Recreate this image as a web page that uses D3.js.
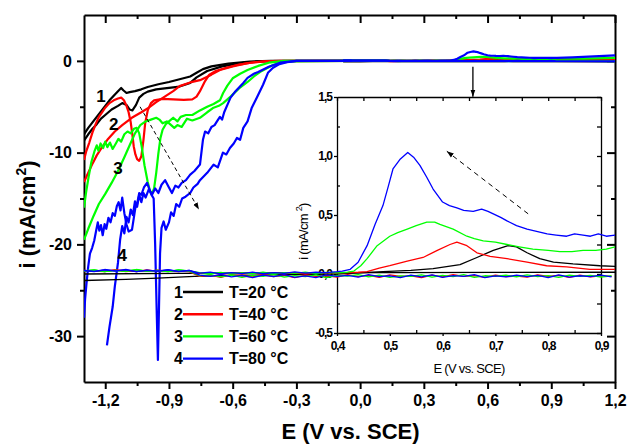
<!DOCTYPE html>
<html>
<head>
<meta charset="utf-8">
<script src="https://cdn.jsdelivr.net/npm/d3@7"></script>
<style>
  body { margin: 0; background: #fff; }
  svg { display: block; font-family: "Liberation Sans", Arial, sans-serif; }
</style>
</head>
<body>
<script>
// ---- main plot: cathodic branches, [E (V), i (mA/cm2)] ----
const blackUpper = [[-1.3,-8.0],[-1.28,-7.3],[-1.26,-6.7],[-1.24,-6.1],[-1.22,-5.5],[-1.2,-4.9],[-1.18,-4.3],[-1.16,-3.8],[-1.14,-3.3],[-1.125,-2.95],[-1.115,-3.2],[-1.1,-3.5],[-1.085,-3.4],[-1.06,-3.3],[-1.03,-3.1],[-1.0,-2.85],[-0.95,-2.55],[-0.9,-2.3],[-0.85,-2.0],[-0.8,-1.7],[-0.77,-1.3],[-0.74,-0.9],[-0.7,-0.6],[-0.62,-0.3],[-0.52,-0.08],[-0.42,0],[-0.04,0]];
const blackLower = [[-1.3,-8.7],[-1.28,-8.0],[-1.26,-7.4],[-1.24,-6.9],[-1.22,-6.3],[-1.2,-5.9],[-1.17,-5.3],[-1.14,-4.9],[-1.12,-4.6],[-1.1,-4.8],[-1.085,-5.3],[-1.072,-5.4],[-1.055,-4.8],[-1.04,-4.0],[-1.02,-3.6],[-1.0,-3.35],[-0.96,-3.1],[-0.9,-2.95],[-0.85,-2.8],[-0.8,-2.4],[-0.77,-1.8],[-0.72,-1.1],[-0.65,-0.6],[-0.55,-0.2],[-0.45,-0.03],[-0.04,0]];
const redUpper = [[-1.3,-10.8],[-1.29,-9.9],[-1.275,-8.9],[-1.26,-7.8],[-1.245,-6.9],[-1.23,-6.1],[-1.215,-5.6],[-1.2,-5.1],[-1.18,-4.6],[-1.16,-4.3],[-1.14,-4.1],[-1.125,-4.0],[-1.112,-4.3],[-1.1,-4.9],[-1.09,-5.6],[-1.08,-6.7],[-1.073,-7.9],[-1.066,-9.3],[-1.058,-10.2],[-1.05,-10.7],[-1.04,-10.9],[-1.03,-10.4],[-1.02,-8.6],[-1.012,-6.8],[-1.0,-5.4],[-0.985,-4.6],[-0.97,-4.3],[-0.93,-4.15],[-0.88,-4.2],[-0.83,-4.25],[-0.79,-4.2],[-0.77,-3.9],[-0.754,-3.3],[-0.73,-2.2],[-0.71,-1.5],[-0.68,-1.1],[-0.63,-0.75],[-0.57,-0.4],[-0.5,-0.15],[-0.42,-0.03],[-0.04,0]];
const redLower = [[-1.3,-13.2],[-1.28,-12.2],[-1.26,-11.2],[-1.24,-10.3],[-1.215,-9.4],[-1.19,-8.6],[-1.155,-7.7],[-1.12,-7.0],[-1.075,-6.2],[-1.03,-5.6],[-0.995,-5.1],[-0.96,-4.5],[-0.92,-3.9],[-0.88,-3.3],[-0.85,-2.75],[-0.8,-2.35],[-0.754,-2.1],[-0.7,-1.5],[-0.66,-1.0],[-0.6,-0.6],[-0.53,-0.25],[-0.45,-0.05],[-0.38,0],[-0.04,0]];
const greenUpper = [[-1.3,-16.0],[-1.29,-14.3],[-1.278,-12.6],[-1.265,-11.0],[-1.25,-9.8],[-1.24,-9.2],[-1.232,-9.8],[-1.222,-9.0],[-1.21,-9.5],[-1.2,-8.8],[-1.19,-9.4],[-1.178,-8.9],[-1.165,-9.6],[-1.15,-9.0],[-1.138,-8.5],[-1.125,-8.8],[-1.11,-8.0],[-1.095,-7.7],[-1.08,-7.9],[-1.065,-7.4],[-1.052,-7.3],[-1.04,-7.9],[-1.028,-9.4],[-1.015,-11.4],[-1.0,-13.2],[-0.99,-14.1],[-0.98,-14.5],[-0.97,-13.9],[-0.96,-12.2],[-0.95,-10.1],[-0.94,-8.4],[-0.93,-7.5],[-0.915,-6.9],[-0.9,-6.6],[-0.88,-6.2],[-0.86,-6.6],[-0.845,-6.1],[-0.82,-5.9],[-0.79,-5.9],[-0.754,-5.4],[-0.72,-5.0],[-0.69,-4.7],[-0.66,-4.3],[-0.645,-3.5],[-0.625,-2.7],[-0.6,-1.9],[-0.565,-1.4],[-0.53,-1.0],[-0.48,-0.55],[-0.43,-0.2],[-0.36,0],[-0.04,0]];
const greenLower = [[-1.3,-19.5],[-1.28,-18.3],[-1.255,-16.9],[-1.23,-15.6],[-1.2,-14.5],[-1.17,-13.3],[-1.14,-12.0],[-1.11,-10.5],[-1.085,-9.2],[-1.06,-7.9],[-1.035,-7.0],[-1.01,-6.6],[-0.985,-6.4],[-0.96,-6.2],[-0.945,-6.4],[-0.93,-6.8],[-0.91,-6.6],[-0.895,-6.9],[-0.875,-7.3],[-0.86,-7.0],[-0.84,-7.2],[-0.815,-6.3],[-0.79,-6.5],[-0.754,-6.2],[-0.72,-5.6],[-0.69,-5.1],[-0.665,-4.9],[-0.645,-4.6],[-0.61,-3.9],[-0.57,-3.0],[-0.53,-2.3],[-0.5,-1.7],[-0.47,-1.2],[-0.41,-0.45],[-0.35,-0.05],[-0.04,0]];
const blueFwd = [[-1.3,-28.0],[-1.295,-26.0],[-1.288,-24.2],[-1.28,-22.4],[-1.272,-21.0],[-1.262,-20.4],[-1.252,-19.6],[-1.242,-18.4],[-1.235,-17.6],[-1.228,-18.5],[-1.22,-17.9],[-1.212,-19.0],[-1.203,-17.8],[-1.195,-18.3],[-1.185,-17.1],[-1.175,-17.6],[-1.165,-16.6],[-1.155,-16.9],[-1.145,-15.8],[-1.137,-15.4],[-1.128,-16.3],[-1.12,-14.9],[-1.11,-16.6],[-1.1,-17.8],[-1.09,-18.6],[-1.074,-18.4],[-1.066,-17.2],[-1.058,-16.0],[-1.05,-15.6],[-1.04,-14.4],[-1.03,-14.6],[-1.018,-13.8],[-1.003,-13.3],[-0.992,-14.0],[-0.982,-14.6],[-0.972,-15.0],[-0.965,-20.0],[-0.958,-27.0],[-0.952,-32.6],[-0.947,-27.0],[-0.942,-21.0],[-0.935,-18.2],[-0.925,-17.5],[-0.915,-18.4],[-0.9,-17.6],[-0.89,-16.5],[-0.878,-16.9],[-0.866,-15.6],[-0.852,-15.9],[-0.838,-15.0],[-0.822,-14.8],[-0.8,-14.4],[-0.785,-13.8],[-0.765,-13.4],[-0.754,-13.0],[-0.72,-12.2],[-0.69,-11.3],[-0.67,-11.6],[-0.646,-10.0],[-0.63,-10.2],[-0.613,-9.5],[-0.595,-9.0],[-0.58,-8.4],[-0.565,-8.6],[-0.55,-7.3],[-0.53,-6.6],[-0.51,-5.1],[-0.486,-4.0],[-0.457,-2.6],[-0.434,-1.3],[-0.41,-0.75],[-0.38,-0.35],[-0.344,-0.15],[-0.3,0],[-0.04,0]];
const blueRev = [[-1.192,-31.0],[-1.18,-29.0],[-1.165,-26.8],[-1.155,-24.6],[-1.14,-22.0],[-1.13,-19.5],[-1.12,-18.0],[-1.11,-18.8],[-1.1,-17.0],[-1.09,-17.6],[-1.08,-16.2],[-1.07,-16.8],[-1.06,-15.3],[-1.05,-15.9],[-1.04,-14.6],[-1.03,-15.4],[-1.02,-14.4],[-1.01,-14.9],[-0.995,-14.0],[-0.98,-14.6],[-0.965,-13.9],[-0.95,-14.4],[-0.935,-13.5],[-0.918,-13.0],[-0.9,-13.8],[-0.886,-14.4],[-0.87,-13.6],[-0.855,-13.8],[-0.84,-13.3],[-0.82,-13.0],[-0.8,-12.4],[-0.78,-12.0],[-0.765,-11.6],[-0.754,-11.3],[-0.74,-8.6],[-0.73,-7.7],[-0.715,-7.9],[-0.7,-7.2],[-0.685,-7.0],[-0.674,-6.6],[-0.66,-6.1],[-0.65,-6.4],[-0.64,-5.6],[-0.625,-4.8],[-0.61,-4.0],[-0.59,-3.4],[-0.57,-2.9],[-0.55,-2.4],[-0.53,-1.85],[-0.5,-1.4],[-0.48,-1.2],[-0.43,-0.65],[-0.377,-0.2],[-0.3,0],[-0.04,0]];

// ---- inset data (anodic region), [E (V), i (mA/cm2)] ----
const fwdE = [-0.08,-0.06,-0.04,-0.02,0,0.02,0.04,0.06,0.08,0.1,0.12,0.14,0.16,0.18,0.2,0.22,0.24,0.26,0.28,0.3,0.32,0.34,0.36,0.38,0.4];
const fwdBlueFlat = [0.03,0.022,0.038,0.026,0.035,0.02,0.032,0.025,0.036,0.022,0.03,0.008,0.015,0.0,0.012,0.004,0.016,0.002,0.012,0.006,0.018,0.008,0.015,0.012,0.02];
const fwdGreenFlat = [0.025,0.034,0.02,0.03,0.024,0.036,0.022,0.03,0.02,0.034,0.026,0.012,0.002,0.014,0.0,0.01,0.004,0.015,0.0,0.012,0.006,0.016,0.004,0.014,0.01];
const fwdRedFlat = [0.02,0.03,0.024,0.034,0.02,0.028,0.022,0.032,0.024,0.02,0.028,0.004,0.012,-0.004,0.008,0.0,0.01,-0.002,0.008,0.002,0.01,0.0,0.008,0.012,0.01];
const bluePeak = [[0.41,0.025],[0.425,0.04],[0.44,0.1],[0.457,0.24],[0.472,0.42],[0.487,0.58],[0.497,0.74],[0.506,0.89],[0.519,0.97],[0.534,1.03],[0.545,0.99],[0.557,0.92],[0.57,0.82],[0.582,0.72],[0.6,0.61],[0.613,0.58],[0.627,0.56],[0.64,0.54],[0.658,0.53],[0.674,0.55],[0.686,0.53],[0.696,0.51],[0.71,0.48],[0.722,0.45],[0.74,0.41],[0.76,0.38],[0.78,0.36],[0.798,0.34],[0.815,0.33],[0.835,0.32],[0.85,0.34],[0.866,0.33],[0.88,0.32],[0.895,0.34],[0.91,0.32],[0.927,0.33]];
const greenPeak = [[0.42,0.015],[0.432,0.025],[0.445,0.07],[0.457,0.13],[0.476,0.24],[0.5,0.32],[0.515,0.35],[0.533,0.38],[0.55,0.41],[0.57,0.44],[0.585,0.44],[0.595,0.42],[0.62,0.38],[0.646,0.32],[0.66,0.3],[0.677,0.28],[0.7,0.27],[0.722,0.25],[0.745,0.23],[0.771,0.21],[0.8,0.2],[0.822,0.19],[0.845,0.19],[0.866,0.2],[0.89,0.2],[0.91,0.21],[0.927,0.23]];
const redPeak = [[0.42,0.012],[0.44,0.015],[0.457,0.02],[0.48,0.05],[0.5,0.07],[0.533,0.11],[0.563,0.14],[0.59,0.2],[0.614,0.25],[0.627,0.27],[0.646,0.24],[0.665,0.18],[0.69,0.15],[0.722,0.13],[0.76,0.1],[0.797,0.07],[0.835,0.06],[0.879,0.04],[0.927,0.04]];
const blackFwd = [[-0.08,-0.055],[0.0,-0.045],[0.06,-0.035],[0.13,-0.02],[0.2,-0.012],[0.3,-0.005],[0.4,0.0],[0.487,0.02],[0.54,0.03],[0.582,0.045],[0.633,0.08],[0.665,0.14],[0.696,0.2],[0.724,0.24],[0.74,0.23],[0.76,0.18],[0.784,0.13],[0.81,0.1],[0.847,0.085],[0.898,0.07],[0.927,0.065]];
const blackRev = [[-0.08,0.0],[0.1,0.005],[0.3,0.01],[0.5,0.012],[0.7,0.013],[0.927,0.015]];
const revE = [-0.08,-0.06,-0.04,-0.02,0,0.02,0.04,0.06,0.08,0.1,0.12,0.14,0.16,0.18,0.2,0.22,0.24,0.26,0.28,0.3,0.32,0.34,0.36,0.38,0.4,0.42,0.44,0.46,0.48,0.5,0.52,0.54,0.56,0.58,0.6,0.62,0.64,0.66,0.68,0.7,0.72,0.74,0.76,0.78,0.8,0.82,0.84,0.86,0.88,0.9,0.92];
const revBlue = [0.03,0.02,0.035,0.025,0.04,0.02,0.03,0.025,0.035,0.02,0.03,-0.01,-0.02,-0.005,-0.025,-0.012,-0.03,-0.01,-0.022,-0.006,-0.028,-0.015,-0.03,-0.008,-0.02,-0.012,-0.027,-0.005,-0.022,-0.015,-0.03,-0.01,-0.024,-0.008,-0.028,-0.014,-0.02,-0.006,-0.03,-0.016,-0.025,-0.01,-0.022,-0.012,-0.03,-0.008,-0.026,-0.015,-0.022,-0.01,-0.025];
const revGreen = [0.025,0.035,0.02,0.03,0.022,0.038,0.025,0.03,0.02,0.035,0.025,-0.015,-0.005,-0.025,-0.01,-0.028,-0.012,-0.02,-0.004,-0.026,-0.014,-0.022,-0.008,-0.03,-0.012,-0.018,-0.006,-0.025,-0.01,-0.028,-0.016,-0.02,-0.008,-0.026,-0.012,-0.022,-0.005,-0.028,-0.015,-0.02,-0.01,-0.025,-0.008,-0.022,-0.014,-0.028,-0.01,-0.02,-0.012,-0.026,-0.015];
const revRed = [0.03,0.025,0.02,0.035,0.028,0.02,0.035,0.022,0.03,0.025,0.02,-0.02,-0.01,-0.028,-0.006,-0.018,-0.025,-0.008,-0.022,-0.012,-0.03,-0.01,-0.02,-0.015,-0.026,-0.005,-0.022,-0.012,-0.028,-0.008,-0.02,-0.016,-0.03,-0.01,-0.024,-0.006,-0.02,-0.014,-0.028,-0.01,-0.022,-0.018,-0.026,-0.008,-0.02,-0.012,-0.028,-0.01,-0.024,-0.016,-0.02];
// main-plot continuation past the inset range up to 1.2 V
const blueTail = [[1.0,0.38],[1.1,0.48],[1.2,0.6]];
const greenTail = [[1.05,0.25],[1.2,0.32]];
const redTail = [[1.2,0.08]];
const blackTail = [[1.2,0.1]];
const revTail = [[1.2,-0.06]];

// ---- labels / ticks ----
const xTicks = [-1.2, -0.9, -0.6, -0.3, 0, 0.3, 0.6, 0.9, 1.2];
const xMinor = [-1.05, -0.75, -0.45, -0.15, 0.15, 0.45, 0.75, 1.05];
const yTicks = [-30, -20, -10, 0];
const yMinor = [-25, -15, -5];
const insetXTicks = [0.4, 0.5, 0.6, 0.7, 0.8, 0.9];
const insetXMinor = [0.45, 0.55, 0.65, 0.75, 0.85];
const insetYTicks = [-0.5, 0, 0.5, 1.0, 1.5];
const insetYMinor = [-0.25, 0.25, 0.75, 1.25];
const legendNums = ["1", "2", "3", "4"];
const legendLabels = ["T=20 °C", "T=40 °C", "T=60 °C", "T=80 °C"];
const colors = ["#000000", "#ff0000", "#00ff00", "#0000ff"];
const curveNums = [[-1.22, -3.9], [-1.16, -6.9], [-1.14, -11.7], [-1.12, -21.2]];
const arrowMain = [[-1.036, -5.0], [-0.759, -16.2]];
const arrowDown = [[0.531, -0.65], [0.531, -3.9]];
const arrowInset = [[0.762, 0.51], [0.608, 1.04]];

const width = 628, height = 446;
const svg = d3.select("body").append("svg").attr("width", width).attr("height", height);

const x = d3.scaleLinear().domain([-1.3, 1.2]).range([84, 615]);
const y = d3.scaleLinear().domain([-35, 5]).range([382, 15]);
const ix = d3.scaleLinear().domain([0.4, 0.9]).range([337, 601]);
const iy = d3.scaleLinear().domain([-0.5, 1.5]).range([333, 97]);

const comma = (f) => (d) => d3.format(f)(d).replace(".", ",").replace("\u2212", "-");

const defs = svg.append("defs");
defs.append("clipPath").attr("id", "mainclip").append("rect")
  .attr("x", x.range()[0]).attr("y", y.range()[1])
  .attr("width", x.range()[1] - x.range()[0]).attr("height", y.range()[0] - y.range()[1]);
defs.append("marker").attr("id", "head").attr("viewBox", "0 0 10 10")
  .attr("refX", 10).attr("refY", 5).attr("markerWidth", 7).attr("markerHeight", 8)
  .attr("orient", "auto").attr("markerUnits", "userSpaceOnUse")
  .append("path").attr("d", "M0,1.5L10,5L0,8.5z").attr("fill", "#000");

function styleAxis(g, w, size, extra) {
  g.attr("font-family", null).attr("font-size", null);
  g.select(".domain").attr("stroke-width", w);
  g.selectAll(".tick line").attr("stroke-width", w);
  g.selectAll(".tick text").attr("font-size", size).attr("font-weight", "bold").attr("fill", "#000");
  if (extra) extra(g);
}
const noDomain = (g) => g.select(".domain").remove();

// main axes
const x0 = x.range()[0], x1 = x.range()[1], y0 = y.range()[0], y1 = y.range()[1];
svg.append("g").attr("transform", `translate(0,${y0})`)
  .call(d3.axisBottom(x).tickValues(xTicks).tickSize(7).tickSizeOuter(0).tickPadding(6).tickFormat(comma(".1f")))
  .call((g) => styleAxis(g, 2, 16));
svg.append("g").attr("transform", `translate(0,${y0})`)
  .call(d3.axisBottom(x).tickValues(xMinor).tickSize(4).tickFormat(""))
  .call((g) => styleAxis(g, 2, 16, noDomain));
svg.append("g").attr("transform", `translate(0,${y1})`)
  .call(d3.axisBottom(x).tickValues(xTicks).tickSize(8).tickSizeOuter(0).tickFormat(""))
  .call((g) => styleAxis(g, 2, 16));
svg.append("g").attr("transform", `translate(0,${y1})`)
  .call(d3.axisBottom(x).tickValues(xMinor).tickSize(4).tickFormat(""))
  .call((g) => styleAxis(g, 2, 16, noDomain));
svg.append("g").attr("transform", `translate(${x0},0)`)
  .call(d3.axisLeft(y).tickValues(yTicks).tickSize(7).tickSizeOuter(0).tickPadding(5).tickFormat(comma("d")))
  .call((g) => styleAxis(g, 2, 16));
svg.append("g").attr("transform", `translate(${x0},0)`)
  .call(d3.axisLeft(y).tickValues(yMinor).tickSize(4).tickFormat(""))
  .call((g) => styleAxis(g, 2, 16, noDomain));
svg.append("g").attr("transform", `translate(${x1},0)`)
  .call(d3.axisLeft(y).tickValues(yTicks).tickSize(8).tickSizeOuter(0).tickFormat(""))
  .call((g) => styleAxis(g, 2, 16));
svg.append("g").attr("transform", `translate(${x1},0)`)
  .call(d3.axisLeft(y).tickValues(yMinor).tickSize(4).tickFormat(""))
  .call((g) => styleAxis(g, 2, 16, noDomain));

// axis titles
svg.append("text").attr("x", (x0 + x1) / 2 + 1).attr("y", 439)
  .attr("text-anchor", "middle").attr("font-size", 22).attr("font-weight", "bold")
  .text("E (V vs. SCE)");
const yt = svg.append("text").attr("transform", `translate(35,${(y0 + y1) / 2 + 16}) rotate(-90)`)
  .attr("text-anchor", "middle").attr("font-size", 22).attr("font-weight", "bold");
yt.append("tspan").text("i (mA/cm");
yt.append("tspan").attr("font-size", 14).attr("dy", -9).text("2");
yt.append("tspan").attr("dy", 9).text(")");

// main curves
const mline = d3.line().x((d) => x(d[0])).y((d) => y(d[1]));
const mainG = svg.append("g").attr("clip-path", "url(#mainclip)")
  .attr("fill", "none").attr("stroke-width", 2.2).attr("stroke-linejoin", "round");
const mainSeries = [
  [blackUpper, 0], [blackLower, 0],
  [blackFwd.concat(blackTail), 0], [blackRev.concat(blackTail), 0],
  [redUpper, 1], [redLower, 1],
  [d3.zip(fwdE, fwdRedFlat).concat(redPeak, redTail), 1], [d3.zip(revE, revRed).concat(revTail), 1],
  [greenUpper, 2], [greenLower, 2],
  [d3.zip(fwdE, fwdGreenFlat).concat(greenPeak, greenTail), 2], [d3.zip(revE, revGreen).concat(revTail), 2],
  [blueFwd, 3], [blueRev, 3],
  [d3.zip(fwdE, fwdBlueFlat).concat(bluePeak, blueTail), 3], [d3.zip(revE, revBlue).concat(revTail), 3],
];
mainG.selectAll("path").data(mainSeries).join("path")
  .attr("stroke", (d) => colors[d[1]]).attr("d", (d) => mline(d[0]));

// inset axes
const ix0 = ix.range()[0], ix1 = ix.range()[1], iy0 = iy.range()[0], iy1 = iy.range()[1];
const insetStyle = (g) => g.selectAll(".tick text").attr("font-size", 12).attr("letter-spacing", -1);
svg.append("g").attr("transform", `translate(0,${iy0})`)
  .call(d3.axisBottom(ix).tickValues(insetXTicks).tickSize(3).tickSizeOuter(0).tickPadding(5).tickFormat(comma(".1f")))
  .call((g) => styleAxis(g, 1.3, 12, insetStyle));
svg.append("g").attr("transform", `translate(0,${iy0})`)
  .call(d3.axisTop(ix).tickValues(insetXMinor).tickSize(3).tickFormat(""))
  .call((g) => styleAxis(g, 1.3, 12, noDomain));
svg.append("g").attr("transform", `translate(0,${iy1})`)
  .call(d3.axisBottom(ix).tickValues(insetXTicks.concat(insetXMinor)).tickSize(4).tickSizeOuter(0).tickFormat(""))
  .call((g) => styleAxis(g, 1.3, 12));
svg.append("g").attr("transform", `translate(${ix0},0)`)
  .call(d3.axisLeft(iy).tickValues(insetYTicks).tickSize(3).tickSizeOuter(0).tickPadding(2).tickFormat(comma(".1f")))
  .call((g) => styleAxis(g, 1.3, 12, insetStyle));
svg.append("g").attr("transform", `translate(${ix0},0)`)
  .call(d3.axisRight(iy).tickValues(insetYMinor).tickSize(3).tickFormat(""))
  .call((g) => styleAxis(g, 1.3, 12, noDomain));
svg.append("g").attr("transform", `translate(${ix1},0)`)
  .call(d3.axisLeft(iy).tickValues(insetYTicks.concat(insetYMinor)).tickSize(4).tickSizeOuter(0).tickFormat(""))
  .call((g) => styleAxis(g, 1.3, 12));

svg.append("text").attr("x", (ix0 + ix1) / 2).attr("y", 373)
  .attr("text-anchor", "middle").attr("font-size", 13).attr("letter-spacing", -0.7)
  .text("E (V vs. SCE)");
const it = svg.append("text").attr("transform", `translate(308,${iy(0.36)}) rotate(-90)`)
  .attr("text-anchor", "middle").attr("font-size", 13).attr("letter-spacing", -0.7);
it.append("tspan").text("i (mA/cm ");
it.append("tspan").attr("font-size", 9).attr("dy", -6).text(" 2");
it.append("tspan").attr("dy", 6).text(")");

// inset curves (not clipped to the inset frame, as in the original)
const iline = d3.line().x((d) => ix(d[0])).y((d) => iy(d[1]));
const insetG = svg.append("g").attr("clip-path", "url(#mainclip)")
  .attr("fill", "none").attr("stroke-width", 1.3).attr("stroke-linejoin", "round");
const insetSeries = [
  [blackFwd, 0], [blackRev, 0],
  [d3.zip(revE, revRed), 1], [d3.zip(fwdE, fwdRedFlat).concat(redPeak), 1],
  [d3.zip(revE, revGreen), 2], [d3.zip(fwdE, fwdGreenFlat).concat(greenPeak), 2],
  [d3.zip(revE, revBlue), 3], [d3.zip(fwdE, fwdBlueFlat).concat(bluePeak), 3],
];
insetG.selectAll("path").data(insetSeries).join("path")
  .attr("stroke", (d) => colors[d[1]]).attr("d", (d) => iline(d[0]));

// arrows
const arrow = (pts, sx, sy, dash, w) =>
  svg.append("line")
    .attr("x1", sx(pts[0][0])).attr("y1", sy(pts[0][1]))
    .attr("x2", sx(pts[1][0])).attr("y2", sy(pts[1][1]))
    .attr("stroke", "#000").attr("stroke-width", w)
    .attr("stroke-dasharray", dash).attr("marker-end", "url(#head)");
arrow(arrowMain, x, y, "4,3", 1);
arrow(arrowDown, x, y, null, 1.3);
arrow(arrowInset, ix, iy, "5,4", 1);

// curve numbers
svg.selectAll(".num").data(curveNums).join("text").attr("class", "num")
  .attr("x", (d) => x(d[0])).attr("y", (d) => y(d[1]))
  .attr("text-anchor", "middle").attr("dominant-baseline", "central")
  .attr("font-size", 17).attr("font-weight", "bold")
  .text((d, i) => legendNums[i]);

// legend
const legend = svg.append("g").attr("font-size", 16).attr("font-weight", "bold");
legendLabels.forEach((lab, i) => {
  const ly = 292 + i * 22.2;
  legend.append("text").attr("x", 183).attr("y", ly).attr("text-anchor", "end")
    .attr("dominant-baseline", "central").text(legendNums[i]);
  legend.append("line").attr("x1", 183).attr("x2", 223).attr("y1", ly).attr("y2", ly)
    .attr("stroke", colors[i]).attr("stroke-width", 2.4);
  legend.append("text").attr("x", 229).attr("y", ly).attr("dominant-baseline", "central").text(lab);
});
</script>
</body>
</html>
